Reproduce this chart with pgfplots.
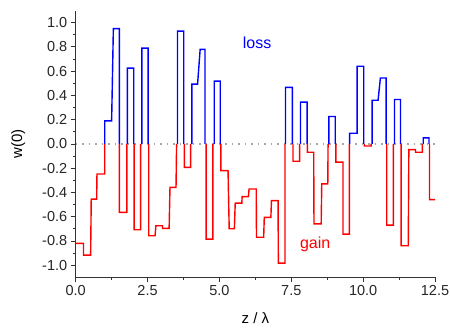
\documentclass[border=0pt]{standalone}
\usepackage{pgfplots}
\pgfplotsset{compat=1.18}
\usepackage{fontspec}
\setmainfont{Liberation Sans}
\begin{document}
\begin{tikzpicture}
\begin{axis}[
  scale only axis, width=359.3pt, height=266.8pt,
  xmin=0, xmax=12.5, ymin=-1.1, ymax=1.1,
  axis lines=left, axis line style={-, line width=0.9pt, black!80},
  xtick={0,2.5,5,7.5,10,12.5}, minor xtick={1.25,3.75,6.25,8.75,11.25},
  ytick={-1,-0.8,-0.6,-0.4,-0.2,0,0.2,0.4,0.6,0.8,1},
  minor ytick={-0.9,-0.7,-0.5,-0.3,-0.1,0.1,0.3,0.5,0.7,0.9},
  tick align=outside, major tick length=5pt, minor tick length=3pt,
  tick style={black!80, line width=0.8pt},
  /pgf/number format/.cd, fixed, fixed zerofill, precision=1, assume math mode=true,
  /pgfplots/.cd,
  tick label style={font=\fontsize{14.5}{16}\selectfont, text=black!85},
  xlabel={z / λ}, ylabel={w(0)},
  every axis x label/.style={at={(axis description cs:0.5,-0.154)}, anchor=center, font=\fontsize{15}{17}\selectfont},
  every axis y label/.style={at={(axis description cs:-0.16,0.5)}, anchor=center, rotate=90, font=\fontsize{15}{17}\selectfont},
  unbounded coords=jump,
]
\addplot[gray!70, line width=1.5pt, dash pattern=on 1.5pt off 5pt] coordinates {(0,0) (12.5,0)};
% loss
\addplot[blue, line width=1.4pt] coordinates {
(1.01,0)(1.01,0.19)(1.25,0.19)(1.31,0.95)(1.52,0.95)(1.52,0) (1.6,nan)
(1.80,0)(1.80,0.625)(2.02,0.625)(2.02,0) (2.1,nan)
(2.30,0)(2.30,0.79)(2.52,0.79)(2.52,0) (3,nan)
(3.54,0)(3.54,0.93)(3.76,0.93)(3.76,0) (3.9,nan)
(4.04,0)(4.04,0.493)(4.24,0.493)(4.33,0.78)(4.5,0.78)(4.5,0) (4.6,nan)
(4.82,0)(4.82,0.518)(5.03,0.518)(5.03,0) (6,nan)
(7.30,0)(7.30,0.466)(7.54,0.466)(7.54,0) (7.6,nan)
(7.82,0)(7.82,0.344)(8.05,0.344)(8.05,0) (8.5,nan)
(8.81,0)(8.81,0.226)(9.03,0.226)(9.03,0) (9.3,nan)
(9.53,0)(9.53,0.088)(9.79,0.088)(9.79,0.64)(10.02,0.64)(10.02,0) (10.1,nan)
(10.31,0)(10.31,0.36)(10.52,0.36)(10.6,0.543)(10.8,0.543)(10.8,0) (10.9,nan)
(11.09,0)(11.09,0.366)(11.3,0.366)(11.3,0) (11.5,nan)
(12.09,0)(12.09,0.05)(12.29,0.05)(12.29,0)
};
% gain
\addplot[red, line width=1.4pt] coordinates {
(0,-0.82)(0.27,-0.82)(0.27,-0.917)(0.52,-0.917)(0.54,-0.455)(0.73,-0.455)(0.74,-0.248)(1.01,-0.248)(1.01,0) (1.2,nan)
(1.52,0)(1.52,-0.565)(1.78,-0.565)(1.78,0) (1.9,nan)
(2.03,0)(2.03,-0.708)(2.26,-0.708)(2.26,0) (2.4,nan)
(2.54,0)(2.54,-0.757)(2.76,-0.757)(2.79,-0.675)(3.02,-0.675)(3.02,-0.697)(3.25,-0.697)(3.28,-0.358)(3.49,-0.358)(3.51,0) (3.6,nan)
(3.78,0)(3.78,-0.193)(4.0,-0.193)(4.0,0) (4.2,nan)
(4.54,0)(4.54,-0.785)(4.77,-0.785)(4.77,0) (4.9,nan)
(5.05,0)(5.05,-0.22)(5.3,-0.22)(5.34,-0.70)(5.52,-0.70)(5.55,-0.488)(5.78,-0.488)(5.79,-0.435)(6.01,-0.435)(6.03,-0.372)(6.28,-0.372)(6.29,-0.77)(6.54,-0.77)(6.56,-0.606)(6.79,-0.606)(6.81,-0.468)(7.04,-0.468)(7.05,-0.983)(7.28,-0.983)(7.28,0) (7.4,nan)
(7.56,0)(7.56,-0.143)(7.79,-0.143)(7.79,0) (7.9,nan)
(8.06,0)(8.06,-0.069)(8.28,-0.069)(8.29,-0.66)(8.54,-0.66)(8.56,-0.33)(8.77,-0.33)(8.78,0) (8.9,nan)
(9.05,0)(9.05,-0.15)(9.3,-0.15)(9.3,-0.744)(9.52,-0.744)(9.52,0) (9.7,nan)
(10.04,0)(10.04,-0.017)(10.28,-0.017)(10.28,0) (10.5,nan)
(10.82,0)(10.82,-0.67)(11.05,-0.67)(11.05,0) (11.2,nan)
(11.32,0)(11.32,-0.84)(11.57,-0.84)(11.59,-0.047)(11.82,-0.047)(11.82,-0.069)(12.06,-0.069)(12.06,0) (12.2,nan)
(12.31,0)(12.31,-0.46)(12.5,-0.46)
};
\node[blue, font=\fontsize{16}{18}\selectfont] at (axis cs:6.31,0.835) {loss};
\node[red, font=\fontsize{16}{18}\selectfont] at (axis cs:8.33,-0.83) {gain};
\end{axis}
\pgfresetboundingbox
\path ([shift={(-75.7pt,-49.7pt)}]current axis.south west) rectangle ([shift={(15pt,10.5pt)}]current axis.north east);
\end{tikzpicture}
\end{document}
